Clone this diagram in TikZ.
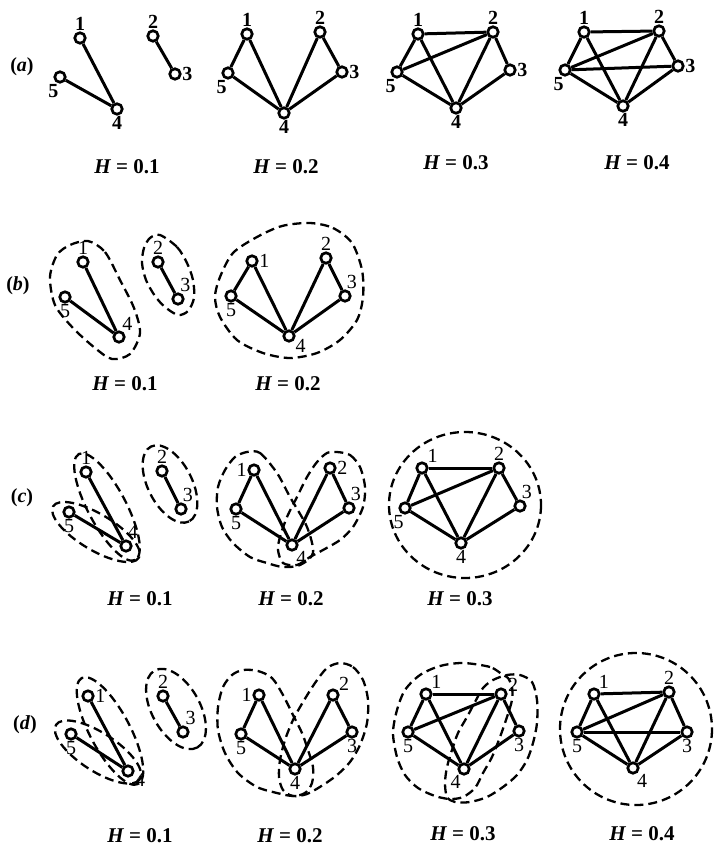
\documentclass[tikz,border=0pt]{standalone}
\usepackage{fontspec}
\setmainfont{Liberation Serif}
\usepackage{tikz}

\begin{document}
\begin{tikzpicture}[x=1pt, y=-1pt,
    vtx/.style={circle, draw, line width=2.7pt, fill=white, minimum size=10.5pt, inner sep=0pt},
    edge/.style={line width=3pt},
    blob/.style={line width=2.3pt, dash pattern=on 9pt off 5pt},
    every label/.style={font=\fontsize{20}{20}\selectfont, inner sep=0.5pt},
    hval/.style={font=\fontsize{21}{21}\selectfont\bfseries},
    tag/.style={font=\fontsize{20}{20}\selectfont\bfseries}]
    \useasboundingbox (0,0) rectangle (714,846);

    % Row labels
    \node[tag] (ta) at (22,67) {(\textit{a})};
    \node[tag] (tb) at (18,286) {(\textit{b})};
    \node[tag] (tc) at (22,498) {(\textit{c})};
    \node[tag] (td) at (25,725) {(\textit{d})};

    % (a) graphs
    \begin{scope}[every label/.style={font=\fontsize{20}{20}\selectfont\bfseries, inner sep=0.5pt}]
        % H = 0.1
        \node[vtx, label={90:1}] (a1-1) at (80,38) {};
        \node[vtx, label={90:2}] (a1-2) at (153,36) {};
        \node[vtx, label={0:3}] (a1-3) at (175,74) {};
        \node[vtx, label={270:4}] (a1-4) at (117,109) {};
        \node[vtx, label={262:5}] (a1-5) at (60,77) {};
        \draw[edge] (a1-1) -- (a1-4) (a1-5) -- (a1-4) (a1-2) -- (a1-3);

        % H = 0.2
        \node[vtx, label={90:1}] (a2-1) at (247,34) {};
        \node[vtx, label={90:2}] (a2-2) at (320,32) {};
        \node[vtx, label={0:3}] (a2-3) at (342,72) {};
        \node[vtx, label={270:4}] (a2-4) at (284,113) {};
        \node[vtx, label={265:5}] (a2-5) at (228,73) {};
        \foreach \u/\v in {1/4,1/5,2/3,2/4,3/4,4/5}
            \draw[edge] (a2-\u) -- (a2-\v);

        % H = 0.3
        \node[vtx, label={90:1}] (a3-1) at (418,34) {};
        \node[vtx, label={90:2}] (a3-2) at (493,32) {};
        \node[vtx, label={0:3}] (a3-3) at (510,70) {};
        \node[vtx, label={270:4}] (a3-4) at (456,108) {};
        \node[vtx, label={265:5}] (a3-5) at (397,72) {};
        \foreach \u/\v in {1/2,1/4,1/5,2/3,2/4,2/5,3/4,4/5}
            \draw[edge] (a3-\u) -- (a3-\v);

        % H = 0.4
        \node[vtx, label={90:1}] (a4-1) at (584,32) {};
        \node[vtx, label={90:2}] (a4-2) at (659,31) {};
        \node[vtx, label={0:3}] (a4-3) at (678,66) {};
        \node[vtx, label={270:4}] (a4-4) at (623,106) {};
        \node[vtx, label={265:5}] (a4-5) at (565,70) {};
        \foreach \u/\v in {1/2,1/4,1/5,2/3,2/4,2/5,3/4,3/5,4/5}
            \draw[edge] (a4-\u) -- (a4-\v);
    \end{scope}

    % (b) H = 0.1
    \node[vtx, label={90:1}] (b1-1) at (83,262) {};
    \node[vtx, label={90:2}] (b1-2) at (158,262) {};
    \node[vtx, label={75:3}] (b1-3) at (178,299) {};
    \node[vtx, label={65:4}] (b1-4) at (119,337) {};
    \node[vtx, label={270:5}] (b1-5) at (65,297) {};
    \draw[edge] (b1-1) -- (b1-4) (b1-5) -- (b1-4) (b1-2) -- (b1-3);
    \draw[blob] plot[smooth cycle] coordinates {(88,241) (105,252) (120,280) (134,308) (140,333) (130,354) (112,359) (95,348) (73,328) (55,305) (50,277) (57,255) (70,245)};
    \draw[blob] plot[smooth cycle] coordinates {(160,235) (177,247) (187,263) (193,280) (194,298) (188,311) (178,315) (165,307) (155,296) (146,280) (142,263) (144,248) (150,238)};

    % (b) H = 0.2
    \node[vtx, label={0:1}] (b2-1) at (252,261) {};
    \node[vtx, label={90:2}] (b2-2) at (326,258) {};
    \node[vtx, label={80:3}] (b2-3) at (345,296) {};
    \node[vtx, label={-25:4}] (b2-4) at (289,336) {};
    \node[vtx, label={270:5}] (b2-5) at (231,296) {};
    \foreach \u/\v in {1/4,1/5,2/3,2/4,3/4,4/5}
        \draw[edge] (b2-\u) -- (b2-\v);
    \draw[blob] plot[smooth cycle] coordinates {(310,223) (333,228) (352,243) (362,270) (363,297) (357,320) (340,340) (317,353) (290,358) (263,353) (237,340) (220,317) (215,297) (220,277) (233,253) (257,237) (282,226)};

    % (c) H = 0.1
    \node[vtx, label={90:1}] (c1-1) at (86,472) {};
    \node[vtx, label={90:2}] (c1-2) at (162,471) {};
    \node[vtx, label={80:3}] (c1-3) at (181,509) {};
    \node[vtx, label={80:4}] (c1-4) at (126,546) {};
    \node[vtx, label={270:5}] (c1-5) at (69,512) {};
    \draw[edge] (c1-1) -- (c1-4) (c1-5) -- (c1-4) (c1-2) -- (c1-3);
    \draw[blob, rotate around={-62:(107,507)}] (107,507) ellipse [x radius=60, y radius=19];
    \draw[blob, rotate around={-31:(96,532)}] (96,532) ellipse [x radius=50, y radius=18];
    \draw[blob, rotate around={-63:(170,484)}] (170,484) ellipse [x radius=42, y radius=22];

    % (c) H = 0.2
    \node[vtx, label={180:1}] (c2-1) at (254,470) {};
    \node[vtx, label={0:2}] (c2-2) at (330,468) {};
    \node[vtx, label={80:3}] (c2-3) at (349,508) {};
    \node[vtx, label={-55:4}] (c2-4) at (292,545) {};
    \node[vtx, label={270:5}] (c2-5) at (236,509) {};
    \foreach \u/\v in {1/4,1/5,2/3,2/4,3/4,4/5}
        \draw[edge] (c2-\u) -- (c2-\v);
    \draw[blob] plot[smooth cycle] coordinates {(247,452) (260,453) (277,473) (290,497) (307,527) (313,553) (300,565) (283,567) (267,563) (250,557) (233,543) (222,527) (217,507) (218,487) (225,470) (235,457)};
    \draw[blob] plot[smooth cycle] coordinates {(337,452) (350,455) (360,467) (365,487) (363,507) (353,527) (340,540) (323,550) (310,557) (297,565) (283,563) (278,550) (280,537) (287,517) (297,497) (307,477) (317,462) (327,453)};

    % (c) H = 0.3
    \node[vtx, label={42:1}] (c3-1) at (422,468) {};
    \node[vtx, label={90:2}] (c3-2) at (499,468) {};
    \node[vtx, label={80:3}] (c3-3) at (520,506) {};
    \node[vtx, label={270:4}] (c3-4) at (461,543) {};
    \node[vtx, label={265:5}] (c3-5) at (405,508) {};
    \foreach \u/\v in {1/2,1/4,1/5,2/3,2/4,2/5,3/4,4/5}
        \draw[edge] (c3-\u) -- (c3-\v);
    \draw[blob] (465,505) ellipse [x radius=76, y radius=73];

    % (d) H = 0.1
    \node[vtx, label={0:1}] (d1-1) at (88,696) {};
    \node[vtx, label={90:2}] (d1-2) at (163,696) {};
    \node[vtx, label={73:3}] (d1-3) at (183,732) {};
    \node[vtx, label={-15:4}] (d1-4) at (128,771) {};
    \node[vtx, label={270:5}] (d1-5) at (71,734) {};
    \draw[edge] (d1-1) -- (d1-4) (d1-5) -- (d1-4) (d1-2) -- (d1-3);
    \draw[blob, rotate around={-62:(110,731)}] (110,731) ellipse [x radius=60, y radius=20];
    \draw[blob, rotate around={-33:(98,752)}] (98,752) ellipse [x radius=50, y radius=19];
    \draw[blob, rotate around={-61:(176,709)}] (176,709) ellipse [x radius=44, y radius=24];

    % (d) H = 0.2
    \node[vtx, label={180:1}] (d2-1) at (259,695) {};
    \node[vtx, label={35:2}] (d2-2) at (333,695) {};
    \node[vtx, label={270:3}] (d2-3) at (352,732) {};
    \node[vtx, label={270:4}] (d2-4) at (295,769) {};
    \node[vtx, label={270:5}] (d2-5) at (241,734) {};
    \foreach \u/\v in {1/4,1/5,2/3,2/4,3/4,4/5}
        \draw[edge] (d2-\u) -- (d2-\v);
    \draw[blob] plot[smooth cycle] coordinates {(243,670) (258,671) (272,678) (283,695) (293,715) (302,733) (308,750) (313,767) (312,783) (305,793) (293,796) (277,793) (257,787) (238,773) (225,753) (218,730) (218,707) (223,687) (232,675)};
    \draw[blob] plot[smooth cycle] coordinates {(340,663) (353,667) (363,680) (368,700) (367,723) (360,745) (350,762) (337,775) (323,785) (307,794) (293,796) (283,790) (279,777) (280,760) (285,740) (293,720) (303,702) (315,683) (327,668)};

    % (d) H = 0.3
    \node[vtx, label={45:1}] (d3-1) at (426,694) {};
    \node[vtx, label={15:2}] (d3-2) at (501,694) {};
    \node[vtx, label={270:3}] (d3-3) at (519,731) {};
    \node[vtx, label={246:4}] (d3-4) at (464,769) {};
    \node[vtx, label={270:5}] (d3-5) at (408,732) {};
    \foreach \u/\v in {1/2,1/4,1/5,2/3,2/4,2/5,3/4,4/5}
        \draw[edge] (d3-\u) -- (d3-\v);
    \draw[blob] plot[smooth cycle] coordinates {(503,675) (490,667) (463,663) (440,666) (420,675) (405,690) (397,710) (393,733) (397,757) (405,775) (418,788) (435,796) (450,799) (463,797) (475,788) (483,773) (492,757) (500,737) (507,717) (512,700) (512,687) (508,678)};
    \draw[blob] plot[smooth cycle] coordinates {(520,675) (532,682) (537,700) (537,723) (533,743) (527,760) (517,775) (503,787) (487,797) (470,802) (455,802) (447,797) (445,783) (447,767) (452,750) (458,733) (467,717) (475,702) (483,688) (493,680) (507,675)};

    % (d) H = 0.4
    \node[vtx, label={50:1}] (d4-1) at (594,694) {};
    \node[vtx, label={90:2}] (d4-2) at (669,692) {};
    \node[vtx, label={270:3}] (d4-3) at (687,732) {};
    \node[vtx, label={300:4}] (d4-4) at (633,768) {};
    \node[vtx, label={270:5}] (d4-5) at (577,732) {};
    \foreach \u/\v in {1/2,1/4,1/5,2/3,2/4,2/5,3/4,3/5,4/5}
        \draw[edge] (d4-\u) -- (d4-\v);
    \draw[blob] (636,729) ellipse [x radius=76, y radius=76];

    % H values
    \node[hval] (ha1) at (127,167) {{\itshape H} = 0.1};
    \node[hval] (ha2) at (286,167) {{\itshape H} = 0.2};
    \node[hval] (ha3) at (456,163) {{\itshape H} = 0.3};
    \node[hval] (ha4) at (637,163) {{\itshape H} = 0.4};
    \node[hval] (hb1) at (125,384) {{\itshape H} = 0.1};
    \node[hval] (hb2) at (288,384) {{\itshape H} = 0.2};
    \node[hval] (hc1) at (140,599) {{\itshape H} = 0.1};
    \node[hval] (hc2) at (291,599) {{\itshape H} = 0.2};
    \node[hval] (hc3) at (460,599) {{\itshape H} = 0.3};
    \node[hval] (hd1) at (140,836) {{\itshape H} = 0.1};
    \node[hval] (hd2) at (290,836) {{\itshape H} = 0.2};
    \node[hval] (hd3) at (463,834) {{\itshape H} = 0.3};
    \node[hval] (hd4) at (642,834) {{\itshape H} = 0.4};
\end{tikzpicture}
\end{document}
